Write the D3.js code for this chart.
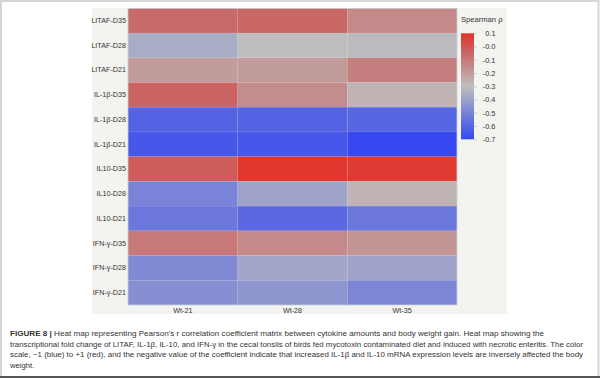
<!DOCTYPE html>
<html><head><meta charset="utf-8">
<script src="https://cdn.jsdelivr.net/npm/d3@7"></script>
<style>body{margin:0;background:#fff;}svg{display:block;font-family:"Liberation Sans",Arial,sans-serif;}</style>
</head><body>
<svg id="c" width="600" height="378"></svg>
<script>
const rows = ["LITAF-D35","LITAF-D28","LITAF-D21","IL-1β-D35","IL-1β-D28","IL-1β-D21","IL10-D35","IL10-D28","IL10-D21","IFN-γ-D35","IFN-γ-D28","IFN-γ-D21"];
const cols = ["Wt-21","Wt-28","Wt-35"];
const wt21 = [-0.06,-0.36,-0.20,-0.04,-0.61,-0.65,-0.02,-0.50,-0.54,-0.10,-0.48,-0.46];
const wt28 = [-0.05,-0.30,-0.20,-0.16,-0.61,-0.65, 0.09,-0.39,-0.59,-0.15,-0.38,-0.44];
const wt35 = [-0.15,-0.31,-0.12,-0.27,-0.60,-0.70, 0.08,-0.27,-0.54,-0.18,-0.39,-0.49];
const legendTicks = [0.1,0.0,-0.1,-0.2,-0.3,-0.4,-0.5,-0.6,-0.7];
const legendTitle = "Spearman ρ";
const captionLines = [
 ["FIGURE 8 |"," Heat map representing Pearson's r correlation coefficient matrix between cytokine amounts and body weight gain. Heat map showing the"],
 ["","transcriptional fold change of LITAF, IL-1β, IL-10, and IFN-γ in the cecal tonsils of birds fed mycotoxin contaminated diet and induced with necrotic enteritis. The color"],
 ["","scale, −1 (blue) to +1 (red), and the negative value of the coefficient indicate that increased IL-1β and IL-10 mRNA expression levels are inversely affected the body"],
 ["","weight."]
];

const series = [wt21, wt28, wt35];
const cells = [];
rows.forEach((r,i)=>cols.forEach((c,j)=>cells.push({r,c,v:series[j][i]})));

const svg = d3.select("#c");
// frame
svg.append("rect").attr("x",1).attr("y",1).attr("width",597.5).attr("height",376).attr("fill","#fff").attr("stroke","#d6d6d6").attr("stroke-width",2);
svg.append("line").attr("x1",0).attr("x2",600).attr("y1",377).attr("y2",377).attr("stroke","#555").attr("stroke-width",2);

// panel bg
svg.append("rect").attr("x",92).attr("y",8).attr("width",415).attr("height",306).attr("fill","#f3f3ef");

const x = d3.scaleBand().domain(cols).range([128,457]);
const y = d3.scaleBand().domain(rows).range([8.3,305]);
const color = d3.scaleLinear().domain([-0.7,-0.3,-0.05,0.1])
  .range(["#3548ef","#bebebe","#c96666","#e3332a"]).interpolate(d3.interpolateRgb).clamp(true);

const g = svg.append("g");
g.selectAll("rect.cell").data(cells).join("rect").attr("class","cell")
 .attr("x",d=>x(d.c)).attr("y",d=>y(d.r)).attr("width",x.bandwidth()).attr("height",y.bandwidth())
 .attr("fill",d=>color(d.v));
// faint grid
g.selectAll("line.vg").data(cols.slice(1)).join("line").attr("class","vg")
 .attr("x1",d=>x(d)).attr("x2",d=>x(d)).attr("y1",8.3).attr("y2",305)
 .attr("stroke","#fff").attr("stroke-opacity",0.25).attr("stroke-width",0.6).attr("stroke-dasharray","1,1");
g.selectAll("line.hg").data(rows.slice(1)).join("line").attr("class","hg")
 .attr("x1",128).attr("x2",457).attr("y1",d=>y(d)).attr("y2",d=>y(d))
 .attr("stroke","#fff").attr("stroke-opacity",0.25).attr("stroke-width",0.6).attr("stroke-dasharray","1,1");
g.append("rect").attr("x",128).attr("y",8.3).attr("width",329).attr("height",296.7).attr("fill","none").attr("stroke","#c9d3dc").attr("stroke-width",0.8);

// axes
const yAxis = d3.axisLeft(y).tickSize(0).tickPadding(2);
const ya = svg.append("g").attr("transform","translate(128,0)").call(yAxis);
ya.select(".domain").remove();
ya.selectAll("text").attr("font-size",7.2).attr("fill","#333").attr("font-family","Liberation Sans, Arial, sans-serif");

const xAxis = d3.axisBottom(x).tickSize(0).tickPadding(3);
const xa = svg.append("g").attr("transform","translate(0,305)").call(xAxis);
xa.select(".domain").remove();
xa.selectAll("text").attr("font-size",7.2).attr("fill","#333").attr("font-family","Liberation Sans, Arial, sans-serif");

// legend
const ly = d3.scaleLinear().domain([0.1,-0.7]).range([33.3,139.3]);
const defs = svg.append("defs");
const grad = defs.append("linearGradient").attr("id","lg").attr("x1",0).attr("x2",0).attr("y1",0).attr("y2",1);
d3.range(0,1.0001,0.05).forEach(t=>{
  const v = 0.1 - 0.8*t;
  grad.append("stop").attr("offset",t).attr("stop-color",color(v));
});
svg.append("rect").attr("x",461).attr("y",33.3).attr("width",13).attr("height",106).attr("fill","url(#lg)");
const la = svg.append("g").attr("transform","translate(474,0)")
 .call(d3.axisRight(ly).tickValues(legendTicks).tickSize(3).tickPadding(1)
   .tickFormat(v=> (v<=0 ? "-" : "") + d3.format(".1f")(Math.abs(v))));
la.select(".domain").remove();
la.selectAll("line").attr("stroke","#c9d3dc");
la.selectAll("text").attr("font-size",7.4).attr("fill","#333").attr("font-family","Liberation Sans, Arial, sans-serif")
  .attr("text-anchor","end").attr("x",21.5);
svg.append("text").attr("x",461).attr("y",22).attr("font-size",7.6).attr("fill","#333").text(legendTitle);

// caption
const cap = svg.append("g");
const baselines = [336,346.5,357,367.5];
const widths = [534,573,573,null];
captionLines.forEach((ln,i)=>{
  const t = cap.append("text").attr("x",10).attr("y",baselines[i]).attr("font-size",7.7).attr("fill","#333");
  if(ln[0]) t.append("tspan").attr("font-weight","bold").text(ln[0]);
  t.append("tspan").text(ln[1]);
  if(widths[i]) t.attr("textLength",widths[i]).attr("lengthAdjust","spacingAndGlyphs");
});
</script>
</body></html>
